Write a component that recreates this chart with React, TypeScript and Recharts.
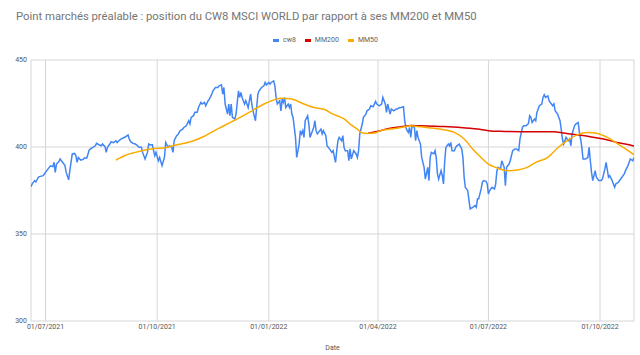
import { LineChart, Line, XAxis, YAxis, CartesianGrid, Legend } from "recharts";

// ─── Data ──────────────────────────────────────────────────────────────────

const cw8Dates = [
  "2021-06-19", "2021-06-20", "2021-06-22", "2021-06-23", "2021-06-25", "2021-06-26", "2021-06-29", "2021-06-30",
  "2021-07-02", "2021-07-04", "2021-07-05", "2021-07-07", "2021-07-08", "2021-07-09", "2021-07-10", "2021-07-12", "2021-07-13", "2021-07-15", "2021-07-17", "2021-07-18", "2021-07-20", "2021-07-21", "2021-07-23", "2021-07-25", "2021-07-26", "2021-07-27", "2021-07-28", "2021-07-30",
  "2021-08-01", "2021-08-02", "2021-08-04", "2021-08-06", "2021-08-07", "2021-08-09", "2021-08-11", "2021-08-12", "2021-08-14", "2021-08-16", "2021-08-17", "2021-08-19", "2021-08-20", "2021-08-21", "2021-08-23", "2021-08-24", "2021-08-26", "2021-08-28", "2021-08-29", "2021-08-31",
  "2021-09-02", "2021-09-03", "2021-09-05", "2021-09-07", "2021-09-08", "2021-09-09", "2021-09-11", "2021-09-13", "2021-09-14", "2021-09-16", "2021-09-18", "2021-09-19", "2021-09-21", "2021-09-23", "2021-09-24", "2021-09-25", "2021-09-27", "2021-09-29", "2021-09-30",
  "2021-10-02", "2021-10-03", "2021-10-05", "2021-10-07", "2021-10-08", "2021-10-10", "2021-10-11", "2021-10-13", "2021-10-14", "2021-10-15", "2021-10-17", "2021-10-18", "2021-10-20", "2021-10-22", "2021-10-23", "2021-10-25", "2021-10-27", "2021-10-28", "2021-10-29", "2021-10-31",
  "2021-11-01", "2021-11-03", "2021-11-04", "2021-11-06", "2021-11-07", "2021-11-09", "2021-11-10", "2021-11-12", "2021-11-13", "2021-11-15", "2021-11-16", "2021-11-18", "2021-11-20", "2021-11-21", "2021-11-23", "2021-11-24", "2021-11-25", "2021-11-26", "2021-11-28", "2021-11-29", "2021-11-30",
  "2021-12-01", "2021-12-02", "2021-12-04", "2021-12-05", "2021-12-07", "2021-12-08", "2021-12-09", "2021-12-10", "2021-12-12", "2021-12-13", "2021-12-15", "2021-12-17", "2021-12-18", "2021-12-19", "2021-12-21", "2021-12-22", "2021-12-23", "2021-12-24", "2021-12-26", "2021-12-28", "2021-12-29", "2021-12-30",
  "2022-01-01", "2022-01-02", "2022-01-03", "2022-01-05", "2022-01-06", "2022-01-07", "2022-01-08", "2022-01-10", "2022-01-11", "2022-01-12", "2022-01-13", "2022-01-14", "2022-01-15", "2022-01-17", "2022-01-18", "2022-01-19", "2022-01-20", "2022-01-21", "2022-01-23", "2022-01-24", "2022-01-26", "2022-01-27", "2022-01-28", "2022-01-29", "2022-01-30", "2022-01-31",
  "2022-02-02", "2022-02-03", "2022-02-04", "2022-02-05", "2022-02-07", "2022-02-08", "2022-02-09", "2022-02-10", "2022-02-12", "2022-02-13", "2022-02-14", "2022-02-15", "2022-02-17", "2022-02-18", "2022-02-20", "2022-02-21", "2022-02-22", "2022-02-23", "2022-02-25", "2022-02-26", "2022-02-27", "2022-02-28",
  "2022-03-02", "2022-03-03", "2022-03-04", "2022-03-05", "2022-03-07", "2022-03-08", "2022-03-09", "2022-03-10", "2022-03-12", "2022-03-14", "2022-03-15", "2022-03-16", "2022-03-17", "2022-03-19", "2022-03-20", "2022-03-22", "2022-03-23", "2022-03-25", "2022-03-26", "2022-03-28", "2022-03-30", "2022-03-31",
  "2022-04-02", "2022-04-04", "2022-04-05", "2022-04-07", "2022-04-08", "2022-04-09", "2022-04-10", "2022-04-11", "2022-04-12", "2022-04-14", "2022-04-16", "2022-04-17", "2022-04-18", "2022-04-20", "2022-04-22", "2022-04-23", "2022-04-24", "2022-04-25", "2022-04-26", "2022-04-27", "2022-04-28", "2022-04-29",
  "2022-05-01", "2022-05-02", "2022-05-03", "2022-05-04", "2022-05-06", "2022-05-07", "2022-05-09", "2022-05-10", "2022-05-12", "2022-05-13", "2022-05-14", "2022-05-15", "2022-05-17", "2022-05-18", "2022-05-19", "2022-05-20", "2022-05-21", "2022-05-23", "2022-05-24", "2022-05-25", "2022-05-26", "2022-05-27", "2022-05-29", "2022-05-30", "2022-05-31",
  "2022-06-01", "2022-06-03", "2022-06-04", "2022-06-05", "2022-06-07", "2022-06-09", "2022-06-10", "2022-06-11", "2022-06-12", "2022-06-14", "2022-06-15", "2022-06-16", "2022-06-18", "2022-06-20", "2022-06-21", "2022-06-22", "2022-06-23", "2022-06-25", "2022-06-26", "2022-06-27", "2022-06-29", "2022-06-30",
  "2022-07-01", "2022-07-02", "2022-07-04", "2022-07-06", "2022-07-07", "2022-07-08", "2022-07-09", "2022-07-11", "2022-07-12", "2022-07-14", "2022-07-15", "2022-07-16", "2022-07-18", "2022-07-19", "2022-07-21", "2022-07-23", "2022-07-24", "2022-07-26", "2022-07-27", "2022-07-29", "2022-07-30",
  "2022-08-01", "2022-08-03", "2022-08-04", "2022-08-05", "2022-08-06", "2022-08-08", "2022-08-09", "2022-08-10", "2022-08-12", "2022-08-14", "2022-08-15", "2022-08-16", "2022-08-17", "2022-08-19", "2022-08-20", "2022-08-21", "2022-08-23", "2022-08-24", "2022-08-25", "2022-08-27", "2022-08-29", "2022-08-30", "2022-08-31",
  "2022-09-01", "2022-09-03", "2022-09-05", "2022-09-06", "2022-09-07", "2022-09-08", "2022-09-10", "2022-09-11", "2022-09-13", "2022-09-14", "2022-09-15", "2022-09-16", "2022-09-17", "2022-09-19", "2022-09-21", "2022-09-22", "2022-09-23", "2022-09-24", "2022-09-25", "2022-09-27", "2022-09-28", "2022-09-30",
  "2022-10-02", "2022-10-03", "2022-10-05", "2022-10-06", "2022-10-08", "2022-10-09", "2022-10-11", "2022-10-13", "2022-10-14", "2022-10-16", "2022-10-18", "2022-10-19", "2022-10-21", "2022-10-22", "2022-10-24", "2022-10-25", "2022-10-26", "2022-10-28", "2022-10-29",
];

const cw8Values = [
  377.2, 378.8, 380.7, 379.9, 382.6, 383, 383.5, 384.5,
  386.4, 388.3, 389.1, 388.7, 391.2, 385.4, 390.2, 391.6, 393.1, 391.2, 389.3, 385.4, 381.1, 386.4, 396, 396.3, 395, 391.2, 394, 392.5,
  392.9, 393.7, 393.7, 398.3, 398.9, 399.8, 400.7, 402.1, 401.3, 400.7, 401.7, 400.2, 396.9, 399.8, 401.7, 403, 402.5, 403.6, 402.6, 404,
  404.9, 405.2, 405.9, 406.9, 404.6, 403.2, 402.1, 401.7, 401.3, 399.8, 399.8, 396.9, 393.1, 396.9, 401.7, 401.3, 401.3, 395, 396.9,
  392.1, 394, 389.3, 394, 402.6, 399.8, 400.7, 399.8, 396.9, 403.6, 406.5, 407, 409.4, 410.3, 411.2, 412.2, 415.1, 413.2, 417, 418,
  419.9, 419.9, 422.7, 425.6, 424.7, 425.6, 423.7, 426.6, 427.5, 430.4, 432.3, 434.2, 434.2, 435.2, 435.7, 430.4, 434.2, 424.7, 418.9, 424.7, 418,
  424.7, 417, 416.1, 418.9, 432.3, 428.5, 431.3, 428.5, 424.7, 426.6, 422.7, 430.4, 424.7, 420.8, 415.1, 422.7, 430.4, 432.3, 434.2, 435.2, 437.1, 435.7,
  437.1, 436.1, 437.1, 438, 435.2, 428.5, 424.7, 426.6, 420.8, 427.5, 425.6, 428.5, 422.7, 424.7, 422.7, 424.7, 418.9, 417, 405.5, 394, 401.7, 409.4, 407.5, 409.4, 405.5, 415.1,
  418, 413.2, 405.5, 407.5, 411.2, 415.1, 409.4, 407.5, 409.4, 410.3, 407.5, 409.4, 406.5, 400.7, 398.9, 397.9, 396.9, 397.9, 391.2, 397.9, 403.6, 405.5,
  403.6, 406.5, 399.8, 397.9, 397.9, 392.1, 398.9, 393.1, 397.9, 396, 394, 397.9, 407.5, 413.2, 417, 418.9, 420.8, 421.8, 423.7, 423.1, 426.2, 424.7,
  423.7, 424.7, 428.5, 424.7, 419.9, 424.7, 421.8, 418.9, 421.8, 420.8, 421.8, 421.8, 422.4, 422.7, 423.1, 415.1, 411.2, 409.4, 408.4, 411.2, 405.5, 412.2,
  411.2, 403.6, 409.4, 405.5, 401.7, 394, 388.3, 381.6, 388.3, 380.7, 394, 396.9, 396, 397.9, 394, 384.5, 381.6, 386.4, 383.5, 378.8, 392.1, 399.8, 401.7, 400.7, 402.6,
  397.9, 397.9, 399.8, 400.7, 401.7, 398.9, 394, 382.6, 376.8, 374.9, 369.2, 364.4, 365.3, 366.3, 365.3, 370.2, 370.2, 375.9, 379.7, 380.7, 380.3, 378.8,
  373, 374.9, 376.8, 375.9, 378.8, 386.4, 388.3, 387.4, 392.1, 388.3, 377.8, 388.3, 390.2, 392.1, 397.9, 398.9, 398.9, 397.9, 404.6, 411.2, 412.2,
  412.2, 413.5, 418, 417, 414.1, 416.1, 415.1, 419.9, 423.7, 424.7, 428.5, 430, 428.5, 429.4, 426.6, 425.6, 423.7, 424.7, 420.8, 418.9, 415.1, 410.3, 404.6,
  401.7, 405.5, 403.6, 404.6, 400.7, 407.5, 412.2, 413.2, 414.1, 408.4, 404.6, 399.8, 393.1, 393.1, 394, 399.8, 392.1, 385.4, 380.7, 386.4, 382.6, 380.7,
  380.7, 381.6, 387.4, 391.2, 382.6, 383.5, 380.7, 376.8, 378.8, 379.7, 381.6, 382.6, 384.5, 386.4, 389.3, 391.2, 393.1, 392.1, 394,
];

const mm200Dates = [
  "2022-03-24", "2022-04-03", "2022-04-11", "2022-04-20", "2022-04-28", "2022-05-06", "2022-05-22",
  "2022-06-08", "2022-06-22", "2022-07-01", "2022-07-11", "2022-07-28", "2022-08-13", "2022-08-24",
  "2022-09-01", "2022-09-12", "2022-09-23", "2022-10-04", "2022-10-15", "2022-10-28", "2022-10-29",
];

const mm200Values = [
  408, 409.4, 410.8, 411.6, 412.4, 412.2, 411.8,
  411.2, 410.3, 409.4, 409, 408.8, 408.8, 408.8,
  408, 407, 405.9, 404.6, 402.6, 400.7, 400.5,
];

const mm50Dates = [
  "2021-08-28", "2021-09-04", "2021-09-13", "2021-09-21", "2021-09-29", "2021-10-06", "2021-10-14",
  "2021-10-23", "2021-10-31", "2021-11-08", "2021-11-16", "2021-11-25", "2021-12-03", "2021-12-11",
  "2021-12-19", "2021-12-28", "2022-01-05", "2022-01-11", "2022-01-19", "2022-01-24", "2022-01-30",
  "2022-02-07", "2022-02-15", "2022-02-23", "2022-03-04", "2022-03-09", "2022-03-15", "2022-03-19",
  "2022-03-23", "2022-03-29", "2022-04-03", "2022-04-11", "2022-04-20", "2022-04-28", "2022-05-06",
  "2022-05-22", "2022-06-03", "2022-06-11", "2022-06-18", "2022-06-25", "2022-07-01", "2022-07-08",
  "2022-07-17", "2022-07-25", "2022-08-02", "2022-08-09", "2022-08-19", "2022-08-27", "2022-09-04",
  "2022-09-12", "2022-09-21", "2022-09-29", "2022-10-07", "2022-10-15", "2022-10-22", "2022-10-29",
];

const mm50Values = [
  392.5, 395, 396.9, 398.3, 399.2, 399.4, 400.7,
  402.1, 403.6, 405.9, 409, 412.2, 415.1, 418,
  421.2, 424.7, 427, 428, 427.8, 426.6, 424.7,
  422.7, 421.8, 418.9, 416.1, 413.2, 410.3, 408,
  407.8, 408, 409.4, 410.3, 411.2, 412.2, 411.6,
  410.3, 408.4, 404.6, 398.9, 394, 390.2, 388,
  386.4, 386.8, 388.3, 391.2, 394, 399.4, 403.6,
  407, 408.4, 407.8, 405.5, 402.1, 398.9, 395.6,
];

const seriesNames = ["cw8", "MM200", "MM50"];
const tickLabels = ["01/07/2021", "01/10/2021", "01/01/2022", "01/04/2022", "01/07/2022", "01/10/2022"];
const yTicks = [300, 350, 400, 450];

// ─── Helpers ───────────────────────────────────────────────────────────────

const toTime = (iso: string) => Date.parse(iso + "T00:00:00Z");

const labelToTime = (label: string) => {
  const [dd, mm, yyyy] = label.split("/").map(Number);
  return Date.UTC(yyyy, mm - 1, dd);
};

const pad = (n: number) => String(n).padStart(2, "0");

const formatDate = (t: number) => {
  const d = new Date(t);
  return `${pad(d.getUTCDate())}/${pad(d.getUTCMonth() + 1)}/${d.getUTCFullYear()}`;
};

const toSeries = (dates: string[], values: number[]) =>
  dates.map((d, i) => ({ t: toTime(d), v: values[i] }));

const cw8Data = toSeries(cw8Dates, cw8Values);
const mm200Data = toSeries(mm200Dates, mm200Values);
const mm50Data = toSeries(mm50Dates, mm50Values);

const xTicks = tickLabels.map(labelToTime);
const xDomain = [toTime(cw8Dates[0]), toTime(cw8Dates[cw8Dates.length - 1])];

const tickStyle = { fontSize: 7, fill: "#555555", fontFamily: "Roboto, sans-serif" };

// ─── Legend ────────────────────────────────────────────────────────────────

const renderLegend = (props: any) => {
  const items = [...(props.payload || [])].sort(
    (a: any, b: any) => seriesNames.indexOf(a.value) - seriesNames.indexOf(b.value)
  );
  return (
    <div
      style={{
        display: "flex",
        alignItems: "center",
        paddingLeft: 273,
        fontSize: 7,
        lineHeight: "10px",
        color: "#5f5f5f",
        fontFamily: "Roboto, sans-serif",
      }}
    >
      {items.map((entry: any) => (
        <div key={entry.value} style={{ display: "flex", alignItems: "center", marginRight: 9 }}>
          <span style={{ display: "inline-block", width: 6, height: 3, background: entry.color, marginRight: 4 }} />
          <span>{entry.value}</span>
        </div>
      ))}
    </div>
  );
};

// ─── Chart ─────────────────────────────────────────────────────────────────

export default function App() {
  return (
    <div
      style={{
        position: "absolute",
        left: 0,
        top: 0,
        width: 640,
        height: 355,
        background: "#ffffff",
        fontFamily: "Roboto, sans-serif",
      }}
    >
      <div
        style={{
          position: "absolute",
          left: 16,
          top: 11,
          fontSize: 11.3,
          lineHeight: "12px",
          color: "#757575",
          whiteSpace: "nowrap",
        }}
      >
        Point marchés préalable : position du CW8 MSCI WORLD par rapport à ses MM200 et MM50
      </div>
      <LineChart width={640} height={355} margin={{ top: 60, right: 6, bottom: 0, left: 0 }}>
        <CartesianGrid stroke="#d6d6d6" strokeWidth={1} />
        <XAxis
          dataKey="t"
          type="number"
          domain={xDomain}
          ticks={xTicks}
          interval={0}
          tickFormatter={formatDate}
          tick={tickStyle}
          tickLine={false}
          axisLine={false}
          tickSize={0}
          tickMargin={3}
          height={34}
          allowDataOverflow
          label={{ value: "Date", position: "insideBottom", offset: 5, style: tickStyle }}
        />
        <YAxis
          type="number"
          domain={[300, 450]}
          ticks={yTicks}
          interval={0}
          tick={tickStyle}
          tickLine={false}
          axisLine={false}
          tickSize={0}
          tickMargin={4}
          width={31}
        />
        <Legend
          verticalAlign="middle"
          align="center"
          layout="horizontal"
          content={renderLegend}
          wrapperStyle={{ top: 35, left: 0, width: 640 }}
        />
        <Line
          data={cw8Data}
          dataKey="v"
          name="cw8"
          type="linear"
          stroke="#4285f4"
          strokeWidth={1.5}
          dot={false}
          isAnimationActive={false}
        />
        <Line
          data={mm200Data}
          dataKey="v"
          name="MM200"
          type="monotone"
          stroke="#d50000"
          strokeWidth={1.5}
          dot={false}
          isAnimationActive={false}
        />
        <Line
          data={mm50Data}
          dataKey="v"
          name="MM50"
          type="monotone"
          stroke="#f9ab00"
          strokeWidth={1.5}
          dot={false}
          isAnimationActive={false}
        />
      </LineChart>
    </div>
  );
}
